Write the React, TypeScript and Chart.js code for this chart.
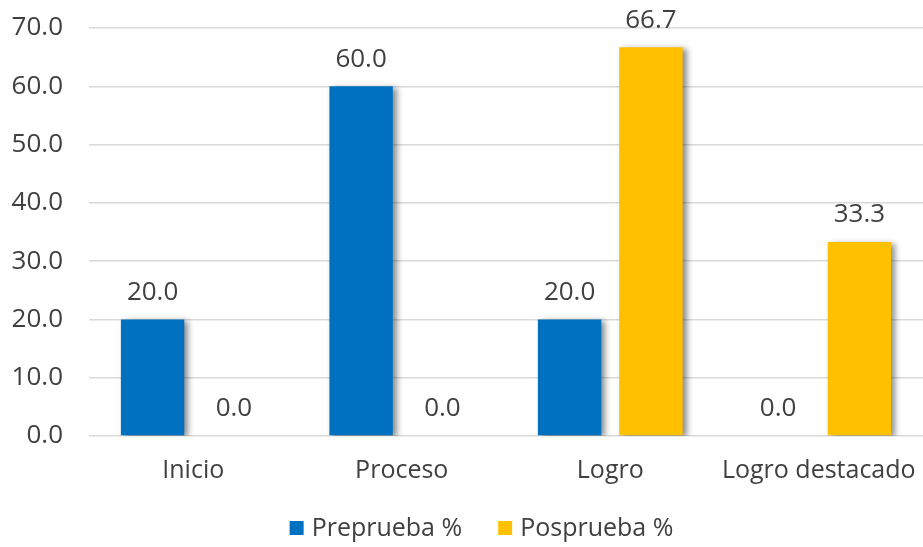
import React, { useEffect, useRef } from "react";
import { Chart, registerables } from "chart.js";

Chart.register(...registerables);

const categories = ["Inicio", "Proceso", "Logro", "Logro destacado"];
const preprueba = [20.0, 60.0, 20.0, 0.0];
const posprueba = [0.0, 0.0, 66.7, 33.3];
const seriesNames = ["Preprueba %", "Posprueba %"];
const seriesColors = ["#0070C0", "#FFC000"];
const yTicks = { min: 0, max: 70, step: 10 };

const FONT = "'Open Sans', 'Noto Sans', sans-serif";
const TEXT = "#404040";

export default function App() {
  const ref = useRef<HTMLCanvasElement>(null);
  useEffect(() => {
    document.body.style.margin = "0";
    const shadowLabels = {
      id: "shadowLabels",
      beforeDatasetsDraw(chart: any) {
        const ctx = chart.ctx;
        ctx.save();
        ctx.shadowColor = "rgba(0,0,0,0.45)";
        ctx.shadowBlur = 6;
        ctx.shadowOffsetX = 4;
        ctx.shadowOffsetY = 2;
      },
      afterDatasetsDraw(chart: any) {
        const ctx = chart.ctx;
        ctx.restore();
        ctx.save();
        ctx.font = `26px ${FONT}`;
        ctx.fillStyle = TEXT;
        ctx.textAlign = "center";
        ctx.textBaseline = "bottom";
        chart.data.datasets.forEach((ds: any, i: number) => {
          const meta = chart.getDatasetMeta(i);
          meta.data.forEach((bar: any, j: number) => {
            const v = ds.data[j] as number;
            ctx.fillText(v.toFixed(1), bar.x, bar.y - 14);
          });
        });
        ctx.restore();
      },
      afterDraw(chart: any) {
        const ctx = chart.ctx;
        ctx.save();
        ctx.font = `25px ${FONT}`;
        ctx.textBaseline = "middle";
        ctx.textAlign = "left";
        const box = 14;
        const gap = 8;
        const itemGap = 36;
        const widths = chart.data.datasets.map((d: any) => ctx.measureText(d.label).width);
        const total = widths.reduce((a: number, w: number) => a + box + gap + w, 0) + itemGap * (widths.length - 1);
        let x = chart.width / 2 + 20 - total / 2;
        const y = chart.height - 19;
        chart.data.datasets.forEach((d: any, i: number) => {
          ctx.fillStyle = d.backgroundColor;
          ctx.fillRect(x, y - box / 2, box, box);
          ctx.fillStyle = TEXT;
          ctx.fillText(d.label, x + box + gap, y + 1);
          x += box + gap + widths[i] + itemGap;
        });
        ctx.restore();
      },
    };
    const chart = new Chart(ref.current!, {
      type: "bar",
      data: {
        labels: categories,
        datasets: [
          { label: seriesNames[0], data: preprueba, backgroundColor: seriesColors[0] },
          { label: seriesNames[1], data: posprueba, backgroundColor: seriesColors[1] },
        ],
      },
      options: {
        animation: false,
        responsive: false,
        datasets: { bar: { categoryPercentage: 0.78, barPercentage: 0.78 } },
        layout: { padding: { left: 10, right: 0, top: 28, bottom: 41 } },
        scales: {
          x: {
            grid: { display: false, drawTicks: false },
            border: { display: false },
            afterFit: (scale: any) => {
              scale.paddingLeft = 0;
              scale.paddingRight = 0;
            },
            ticks: {
              color: TEXT,
              font: { family: FONT, size: 25 },
              padding: 20,
              maxRotation: 0,
              minRotation: 0,
              autoSkip: false,
            },
          },
          y: {
            min: yTicks.min,
            max: yTicks.max,
            grid: { color: "#d9d9d9", lineWidth: 1.5, drawTicks: false },
            border: { display: false },
            afterFit: (scale: any) => {
              scale.width = 79;
              scale.paddingTop = 0;
              scale.paddingBottom = 0;
            },
            ticks: {
              stepSize: yTicks.step,
              color: TEXT,
              padding: 26,
              font: { family: FONT, size: 26 },
              callback: (v: any) => Number(v).toFixed(1),
            },
          },
        },
        plugins: {
          tooltip: { enabled: false },
          legend: { display: false },
        },
      },
      plugins: [shadowLabels],
    });
    return () => chart.destroy();
  }, []);
  return <canvas ref={ref} width={923} height={547} style={{ display: "block" }} />;
}
